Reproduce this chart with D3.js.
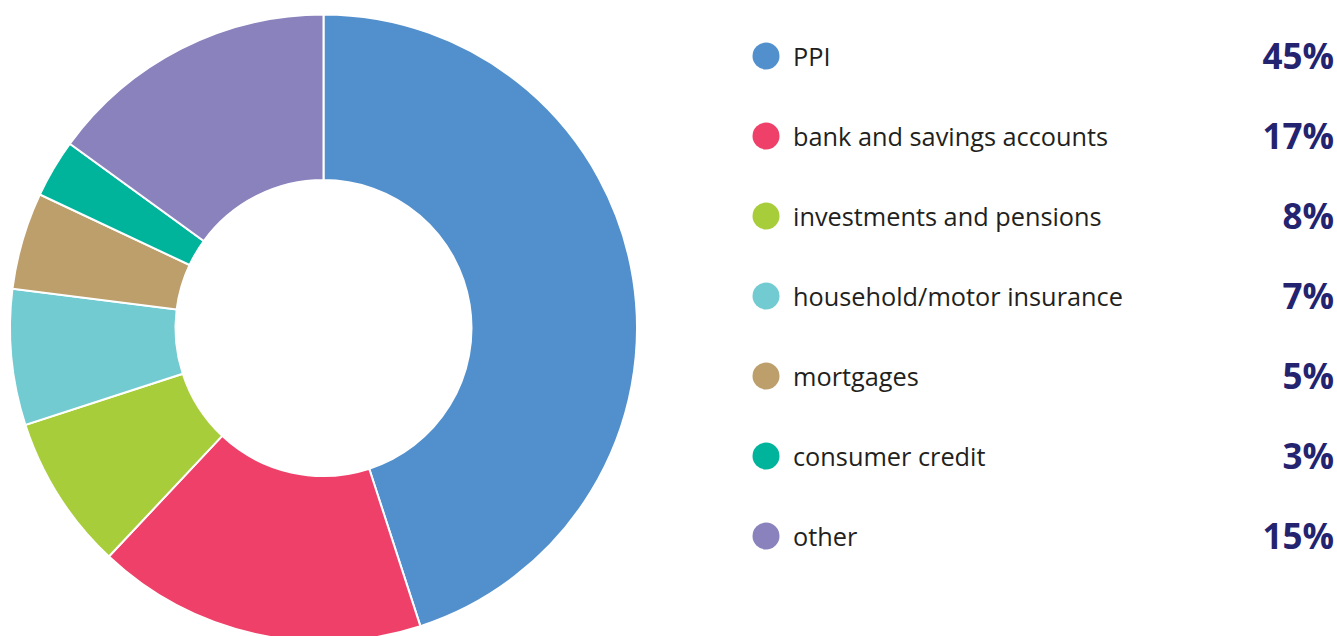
<!DOCTYPE html>
<html>
<head>
<meta charset="utf-8">
<script src="https://cdn.jsdelivr.net/npm/d3@7"></script>
<style>
  html, body { margin: 0; padding: 0; background: #fff; }
  svg { display: block; }
</style>
</head>
<body>
<svg id="chart" width="1337" height="636"></svg>
<script>
// Share of complaints by product
const categories = ["PPI", "bank and savings accounts", "investments and pensions",
  "household/motor insurance", "mortgages", "consumer credit", "other"];
const shares = [45, 17, 8, 7, 5, 3, 15];
const shareLabels = ["45%", "17%", "8%", "7%", "5%", "3%", "15%"];
const palette = ["#5190cd", "#ef4069", "#a8cd3a", "#72cbd0", "#bc9f6b", "#00b49c", "#8982bd"];

const svg = d3.select("#chart");
const cx = 323.5, cy = 328, outerR = 313.5, innerR = 148;

const data = categories.map((c, i) => ({ name: c, value: shares[i], label: shareLabels[i], color: palette[i] }));

const pie = d3.pie().value(d => d.value).sort(null);
const arc = d3.arc().innerRadius(innerR).outerRadius(outerR);

svg.append("g")
  .attr("transform", `translate(${cx},${cy})`)
  .selectAll("path")
  .data(pie(data))
  .join("path")
  .attr("d", arc)
  .attr("fill", d => d.data.color)
  .attr("stroke", "#fff")
  .attr("stroke-width", 2);

// Legend
const y = d3.scaleBand().domain(categories).range([16, 576]).paddingInner(0);
const legend = svg.append("g");
const rows = legend.selectAll("g").data(data).join("g")
  .attr("transform", d => `translate(0,${y(d.name) + y.bandwidth() / 2})`);

rows.append("circle").attr("cx", 766).attr("cy", 0).attr("r", 13.5).attr("fill", d => d.color);
rows.append("text")
  .attr("x", 793).attr("y", 1).attr("dy", "0.35em")
  .attr("font-family", "'Open Sans', sans-serif").attr("font-size", 25.3)
  .attr("fill", "#231f20")
  .text(d => d.name);
rows.append("text")
  .attr("x", 1334).attr("y", 0).attr("dy", "0.36em")
  .attr("text-anchor", "end")
  .attr("font-family", "'Open Sans', sans-serif").attr("font-weight", 700).attr("font-size", 35)
  .attr("fill", "#24236f")
  .text(d => d.label);
</script>
</body>
</html>
